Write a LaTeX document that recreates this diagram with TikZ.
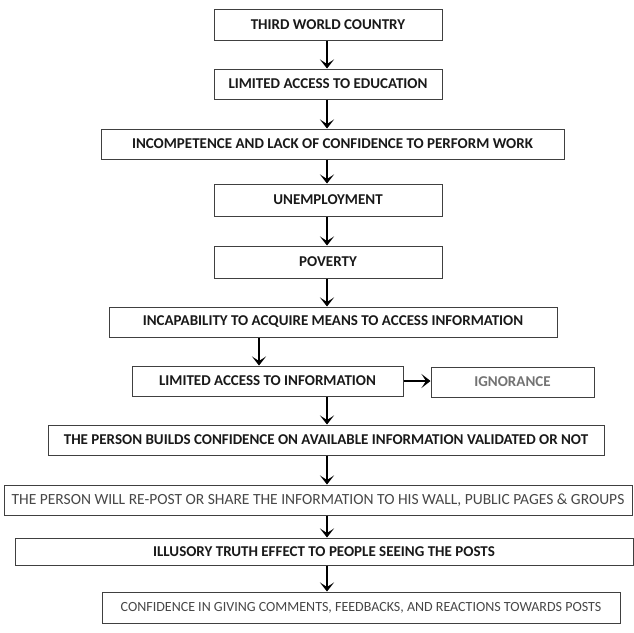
\documentclass[tikz,border=0pt]{standalone}
\usepackage{fontspec}
\setmainfont{Carlito}
\usetikzlibrary{arrows.meta}
\tikzset{
  flowbox/.style={draw=black!75, line width=1pt, inner sep=0pt, fill=white,
    font=\fontsize{15}{17}\selectfont\bfseries, text=black!90},
  graytext/.style={text=black!72},
  flowarrow/.style={line width=2.2pt, black, -{Stealth[length=9pt,width=14pt,inset=4.5pt]}}
}
\begin{document}
\begin{tikzpicture}[x=1pt,y=-1pt]
\useasboundingbox[fill=white] (0,0) rectangle (634,632);
\node[flowbox, minimum width=228pt, minimum height=31pt] (n1) at (328,24.5) {THIRD WORLD COUNTRY};
\node[flowbox, minimum width=228pt, minimum height=30pt] (n2) at (328,84) {LIMITED ACCESS TO EDUCATION};
\node[flowbox, minimum width=463pt, minimum height=30pt] (n3) at (332.5,144) {INCOMPETENCE AND LACK OF CONFIDENCE TO PERFORM WORK};
\node[flowbox, minimum width=228pt, minimum height=32pt] (n4) at (328,200) {UNEMPLOYMENT};
\node[flowbox, minimum width=228pt, minimum height=32pt] (n5) at (328,262) {POVERTY};
\node[flowbox, minimum width=448pt, minimum height=30pt] (n6) at (333,322) {INCAPABILITY TO ACQUIRE MEANS TO ACCESS INFORMATION};
\node[flowbox, minimum width=271pt, minimum height=30pt] (n7) at (267.5,381) {LIMITED ACCESS TO INFORMATION};
\node[flowbox, text=black!55, minimum width=163pt, minimum height=30pt] (ign) at (512.5,382) {IGNORANCE};
\node[flowbox, minimum width=556pt, minimum height=30pt] (n8) at (326,440) {THE PERSON BUILDS CONFIDENCE ON AVAILABLE INFORMATION VALIDATED OR NOT};
\node[flowbox, graytext, font=\fontsize{15.5}{17}\selectfont, minimum width=628pt, minimum height=30pt] (n9) at (318,500) {THE PERSON WILL RE-POST OR SHARE THE INFORMATION TO HIS WALL, PUBLIC PAGES \& GROUPS};
\node[flowbox, minimum width=618pt, minimum height=27pt] (n10) at (324,551.5) {ILLUSORY TRUTH EFFECT TO PEOPLE SEEING THE POSTS};
\node[flowbox, graytext, font=\fontsize{14}{17}\selectfont, minimum width=518pt, minimum height=31pt] (n11) at (361,607.5) {CONFIDENCE IN GIVING COMMENTS, FEEDBACKS, AND REACTIONS TOWARDS POSTS};
\coordinate (ax) at (327,0);
\coordinate (bx) at (259,0);
\draw[flowarrow] (n1.south -| ax) -- (n2.north -| ax);
\draw[flowarrow] (n2.south -| ax) -- (n3.north -| ax);
\draw[flowarrow] (n3.south -| ax) -- (n4.north -| ax);
\draw[flowarrow] (n4.south -| ax) -- (n5.north -| ax);
\draw[flowarrow] (n5.south -| ax) -- (n6.north -| ax);
\draw[flowarrow] (n6.south -| bx) -- (n7.north -| bx);
\draw[flowarrow] (n7.east) -- (n7.east -| ign.west);
\draw[flowarrow] (n7.south -| ax) -- (n8.north -| ax);
\draw[flowarrow] (n8.south -| ax) -- (n9.north -| ax);
\draw[flowarrow] (n9.south -| ax) -- (n10.north -| ax);
\draw[flowarrow] (n10.south -| ax) -- (n11.north -| ax);
\end{tikzpicture}
\end{document}
